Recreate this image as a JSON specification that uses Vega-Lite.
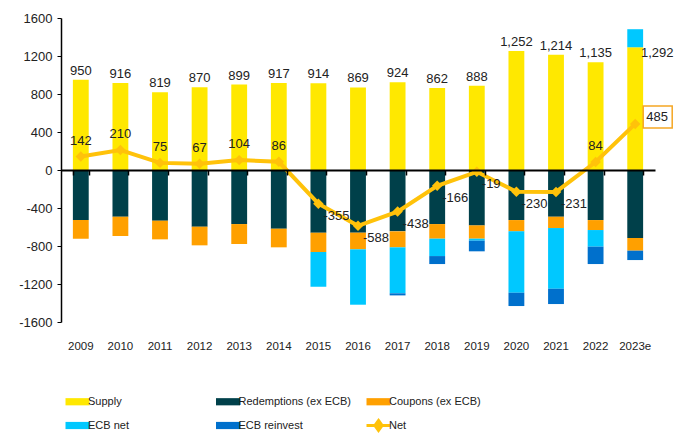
{
  "$schema": "https://vega.github.io/schema/vega-lite/v6.json",
  "width": 594,
  "height": 304,
  "autosize": {"type": "none"},
  "padding": {"left": 61, "top": 18, "right": 28, "bottom": 112},
  "background": "white",
  "config": {
    "view": {"stroke": null},
    "font": "Liberation Sans, Arial, sans-serif",
    "text": {"font": "Liberation Sans, Arial, sans-serif", "fontSize": 13, "color": "#222222"}
  },
  "datasets": {
    "bars": [
      {"year": "2009", "series": "Supply", "value": 950},
      {"year": "2009", "series": "Redemptions (ex ECB)", "value": -527},
      {"year": "2009", "series": "Coupons (ex ECB)", "value": -196},
      {"year": "2010", "series": "Supply", "value": 916},
      {"year": "2010", "series": "Redemptions (ex ECB)", "value": -492},
      {"year": "2010", "series": "Coupons (ex ECB)", "value": -203},
      {"year": "2011", "series": "Supply", "value": 819},
      {"year": "2011", "series": "Redemptions (ex ECB)", "value": -534},
      {"year": "2011", "series": "Coupons (ex ECB)", "value": -196},
      {"year": "2012", "series": "Supply", "value": 870},
      {"year": "2012", "series": "Redemptions (ex ECB)", "value": -597},
      {"year": "2012", "series": "Coupons (ex ECB)", "value": -196},
      {"year": "2013", "series": "Supply", "value": 899},
      {"year": "2013", "series": "Redemptions (ex ECB)", "value": -569},
      {"year": "2013", "series": "Coupons (ex ECB)", "value": -210},
      {"year": "2014", "series": "Supply", "value": 917},
      {"year": "2014", "series": "Redemptions (ex ECB)", "value": -618},
      {"year": "2014", "series": "Coupons (ex ECB)", "value": -196},
      {"year": "2015", "series": "Supply", "value": 914},
      {"year": "2015", "series": "Redemptions (ex ECB)", "value": -660},
      {"year": "2015", "series": "Coupons (ex ECB)", "value": -203},
      {"year": "2015", "series": "ECB net", "value": -365},
      {"year": "2016", "series": "Supply", "value": 869},
      {"year": "2016", "series": "Redemptions (ex ECB)", "value": -660},
      {"year": "2016", "series": "Coupons (ex ECB)", "value": -175},
      {"year": "2016", "series": "ECB net", "value": -583},
      {"year": "2017", "series": "Supply", "value": 924},
      {"year": "2017", "series": "Redemptions (ex ECB)", "value": -646},
      {"year": "2017", "series": "Coupons (ex ECB)", "value": -168},
      {"year": "2017", "series": "ECB net", "value": -484},
      {"year": "2017", "series": "ECB reinvest", "value": -22},
      {"year": "2018", "series": "Supply", "value": 862},
      {"year": "2018", "series": "Redemptions (ex ECB)", "value": -569},
      {"year": "2018", "series": "Coupons (ex ECB)", "value": -154},
      {"year": "2018", "series": "ECB net", "value": -183},
      {"year": "2018", "series": "ECB reinvest", "value": -84},
      {"year": "2019", "series": "Supply", "value": 888},
      {"year": "2019", "series": "Redemptions (ex ECB)", "value": -583},
      {"year": "2019", "series": "Coupons (ex ECB)", "value": -140},
      {"year": "2019", "series": "ECB net", "value": -21},
      {"year": "2019", "series": "ECB reinvest", "value": -112},
      {"year": "2020", "series": "Supply", "value": 1252},
      {"year": "2020", "series": "Redemptions (ex ECB)", "value": -527},
      {"year": "2020", "series": "Coupons (ex ECB)", "value": -119},
      {"year": "2020", "series": "ECB net", "value": -646},
      {"year": "2020", "series": "ECB reinvest", "value": -140},
      {"year": "2021", "series": "Supply", "value": 1214},
      {"year": "2021", "series": "Redemptions (ex ECB)", "value": -492},
      {"year": "2021", "series": "Coupons (ex ECB)", "value": -119},
      {"year": "2021", "series": "ECB net", "value": -639},
      {"year": "2021", "series": "ECB reinvest", "value": -161},
      {"year": "2022", "series": "Supply", "value": 1135},
      {"year": "2022", "series": "Redemptions (ex ECB)", "value": -527},
      {"year": "2022", "series": "Coupons (ex ECB)", "value": -105},
      {"year": "2022", "series": "ECB net", "value": -175},
      {"year": "2022", "series": "ECB reinvest", "value": -183},
      {"year": "2023e", "series": "Supply", "value": 1292},
      {"year": "2023e", "series": "Redemptions (ex ECB)", "value": -716},
      {"year": "2023e", "series": "Coupons (ex ECB)", "value": -133},
      {"year": "2023e", "series": "ECB net", "value": 190},
      {"year": "2023e", "series": "ECB reinvest", "value": -99}
    ],
    "net": [
      {"year": "2009", "net": 142},
      {"year": "2010", "net": 210},
      {"year": "2011", "net": 75},
      {"year": "2012", "net": 67},
      {"year": "2013", "net": 104},
      {"year": "2014", "net": 86},
      {"year": "2015", "net": -355},
      {"year": "2016", "net": -588},
      {"year": "2017", "net": -438},
      {"year": "2018", "net": -166},
      {"year": "2019", "net": -19},
      {"year": "2020", "net": -230},
      {"year": "2021", "net": -231},
      {"year": "2022", "net": 84},
      {"year": "2023e", "net": 485}
    ]
  },
  "resolve": {"axis": {"x": "independent"}},
  "layer": [
    {
      "data": {"name": "bars"},
      "transform": [{"calculate": "indexof(['Supply', 'Redemptions (ex ECB)', 'Coupons (ex ECB)', 'ECB net', 'ECB reinvest'], datum.series)", "as": "stackorder"}],
      "mark": {"type": "bar"},
      "encoding": {
        "x": {
          "field": "year", "type": "nominal", "sort": null,
          "scale": {"paddingInner": 0.6, "paddingOuter": 0.3},
          "axis": {"orient": "bottom", "title": null, "domain": false, "ticks": false, "tickSize": 0, "labelPadding": 18, "labelAngle": 0, "labelFontSize": 11.5, "labelColor": "#222222", "labelFont": "Liberation Sans, Arial, sans-serif"}
        },
        "y": {
          "field": "value", "type": "quantitative", "title": null,
          "scale": {"domain": [-1600, 1600], "nice": false},
          "axis": {"title": null, "values": [-1600, -1200, -800, -400, 0, 400, 800, 1200, 1600], "tickCount": 20, "labelExpr": "'' + datum.value", "labelOverlap": false, "labelFlush": false, "grid": false, "domainColor": "#000000", "domainWidth": 1.5, "tickColor": "#000000", "tickSize": 4, "labelPadding": 5, "labelFontSize": 13, "labelColor": "#222222", "labelFont": "Liberation Sans, Arial, sans-serif"}
        },
        "order": {"field": "stackorder", "type": "quantitative"},
        "color": {
          "field": "series", "type": "nominal",
          "scale": {
            "domain": ["Supply", "Redemptions (ex ECB)", "Coupons (ex ECB)", "ECB net", "ECB reinvest", "Net"],
            "range": ["#FFE800", "#00404A", "#FFA000", "#00C8FF", "#0070CC", "#FFC20A"]
          },
          "legend": {
            "title": null, "orient": "none", "legendX": 11, "legendY": 375, "direction": "horizontal",
            "columns": 3, "gridAlign": "all", "columnPadding": 8.5, "rowPadding": 4, "padding": 0,
            "symbolSize": 576, "labelFontSize": 11, "labelOffset": 5, "labelColor": "#222222", "labelLimit": 200,
            "labelFont": "Liberation Sans, Arial, sans-serif",
            "encode": {
              "symbols": {
                "update": {
                  "shape": {"signal": "datum.value === 'Net' ? 'M-1,0L1,0M0,-0.42L0.3,0L0,0.42L-0.3,0Z' : 'M-1,-0.3L1,-0.3L1,0.3L-1,0.3Z'"},
                  "strokeWidth": {"signal": "datum.value === 'Net' ? 3 : 0"},
                  "stroke": {"scale": "color", "field": "value"},
                  "fill": {"scale": "color", "field": "value"}
                }
              }
            }
          }
        }
      }
    },
    {
      "data": {"name": "net"},
      "mark": {"type": "line", "color": "#FFC20A", "strokeWidth": 4, "point": {"shape": "diamond", "size": 110, "filled": true, "color": "#FFC20A"}},
      "encoding": {
        "x": {
          "field": "year", "type": "nominal", "sort": null,
          "axis": {"orient": "bottom", "offset": -152, "title": null, "labels": false, "domain": true, "domainColor": "#000000", "domainWidth": 1.8, "ticks": true, "tickColor": "#000000", "tickSize": 5, "tickWidth": 1.5, "tickBand": "extent", "zindex": 1}
        },
        "y": {"field": "net", "type": "quantitative", "title": null}
      }
    },
    {
      "data": {"name": "bars"},
      "transform": [{"filter": "datum.series === 'Supply' && datum.year !== '2023e'"}],
      "mark": {"type": "text", "baseline": "bottom", "dy": -2},
      "encoding": {
        "x": {"field": "year", "type": "nominal", "sort": null, "axis": null},
        "y": {"field": "value", "type": "quantitative", "title": null},
        "text": {"field": "value", "type": "quantitative", "format": ","}
      }
    },
    {
      "data": {"name": "bars"},
      "transform": [{"filter": "datum.series === 'Supply' && datum.year === '2023e'"}],
      "mark": {"type": "text", "baseline": "middle", "dx": 22, "dy": 6},
      "encoding": {
        "x": {"field": "year", "type": "nominal", "sort": null, "axis": null},
        "y": {"field": "value", "type": "quantitative", "title": null},
        "text": {"field": "value", "type": "quantitative", "format": ","}
      }
    },
    {
      "data": {"name": "net"},
      "transform": [{"filter": "datum.net >= 0 && datum.year !== '2023e'"}],
      "mark": {"type": "text", "baseline": "middle", "dy": -16},
      "encoding": {
        "x": {"field": "year", "type": "nominal", "sort": null, "axis": null},
        "y": {"field": "net", "type": "quantitative", "title": null},
        "text": {"field": "net", "type": "nominal"}
      }
    },
    {
      "data": {"name": "net"},
      "transform": [{"filter": "datum.net < 0"}],
      "mark": {"type": "text", "baseline": "middle", "align": "left", "dx": 5, "dy": 12},
      "encoding": {
        "x": {"field": "year", "type": "nominal", "sort": null, "axis": null},
        "y": {"field": "net", "type": "quantitative", "title": null},
        "text": {"field": "net", "type": "nominal"}
      }
    },
    {
      "data": {"name": "net"},
      "transform": [{"filter": "datum.year === '2023e'"}],
      "mark": {"type": "point", "shape": "M0.8,-1.8L3.7,-1.8L3.7,0.4L0.8,0.4Z", "size": 400, "filled": false, "stroke": "#F5A623", "strokeWidth": 1.5, "opacity": 1},
      "encoding": {
        "x": {"field": "year", "type": "nominal", "sort": null, "axis": null},
        "y": {"field": "net", "type": "quantitative", "title": null}
      }
    },
    {
      "data": {"name": "net"},
      "transform": [{"filter": "datum.year === '2023e'"}],
      "mark": {"type": "text", "baseline": "middle", "align": "center", "dx": 22, "dy": -7},
      "encoding": {
        "x": {"field": "year", "type": "nominal", "sort": null, "axis": null},
        "y": {"field": "net", "type": "quantitative", "title": null},
        "text": {"field": "net", "type": "nominal"}
      }
    }
  ]
}
